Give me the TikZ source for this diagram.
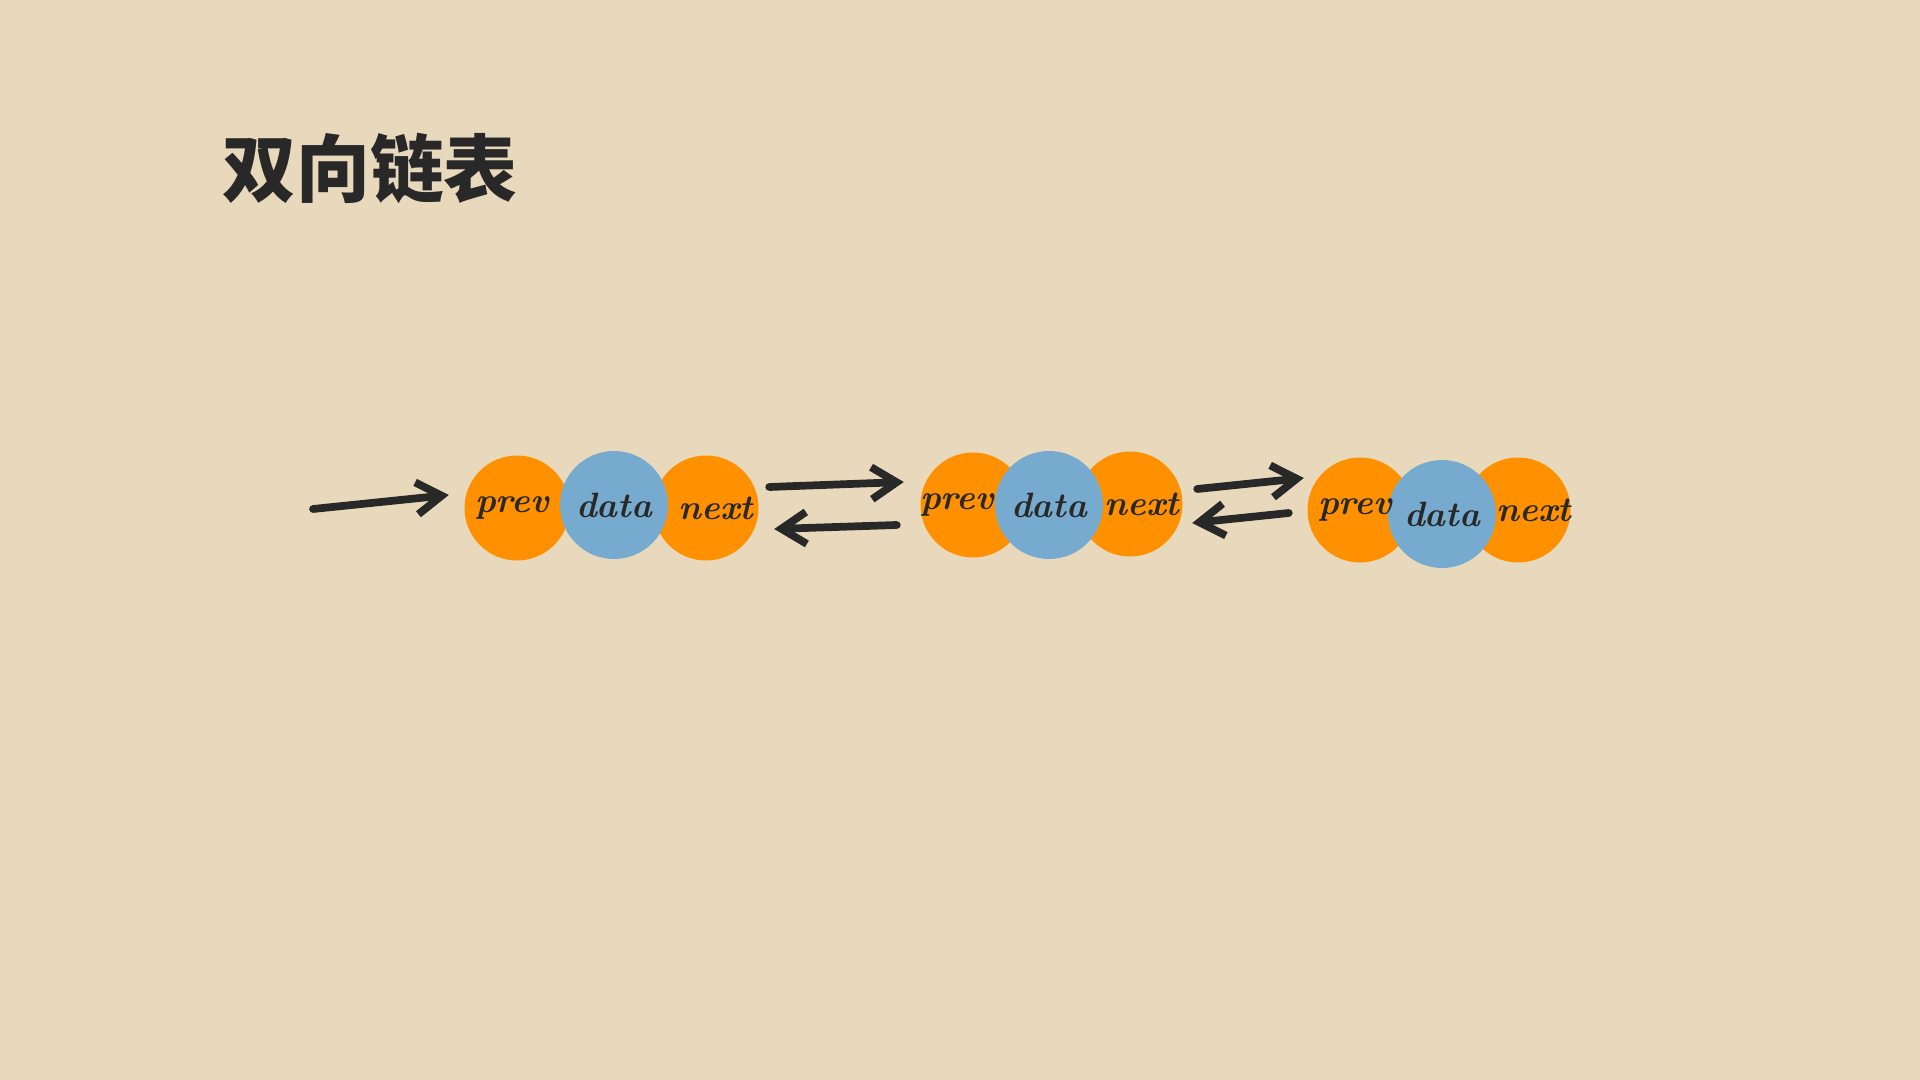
\documentclass[tikz,border=0pt]{standalone}
\usepackage{fontspec}
\newfontfamily\cjk{Noto Sans CJK SC}
\usepackage{tikz}
\usetikzlibrary{arrows.meta}

\definecolor{paper}{RGB}{233,217,188}
\definecolor{ink}{RGB}{40,40,40}
\definecolor{ptrfill}{RGB}{255,145,0}
\definecolor{datafill}{RGB}{118,170,207}

\begin{document}
\begin{tikzpicture}[
                ptr/.style={circle, fill=ptrfill, minimum size=10.5mm, inner sep=0pt}, % pointer fields
                datum/.style={ptr, fill=datafill, minimum size=10.8mm}, % data field
                tag/.style={inner sep=0pt, text=ink, font=\fontsize{10}{12}\selectfont\bfseries\itshape}, % field names
                link/.style={draw=ink, line width=2.2pt, line cap=round, -{Straight Barb[length=2.5mm,width=3.2mm]}} % hand arrows
                ]
                \fill[paper] (0,0) rectangle (19.2,-10.8);
                \useasboundingbox (0,0) rectangle (19.2,-10.8);

                \node[anchor=west, text=ink, font=\cjk\bfseries\fontsize{21}{24}\selectfont] (title) at (2.10,-1.68) {双向链表};

                % first element
                \node[ptr] (prev1) at (5.17,-5.08) {};
                \node[ptr] (next1) at (7.06,-5.08) {};
                \node[datum] (data1) at (6.14,-5.05) {};

                % second element
                \node[ptr] (prev2) at (9.73,-5.05) {};
                \node[ptr] (next2) at (11.30,-5.04) {};
                \node[datum] (data2) at (10.49,-5.05) {};

                % third element
                \node[ptr] (prev3) at (13.60,-5.10) {};
                \node[ptr] (next3) at (15.18,-5.10) {};
                \node[datum] (data3) at (14.42,-5.14) {};

                % field names on top
                \node[tag] (tprev1) at ([xshift=-0.5mm]prev1) {prev};
                \node[tag] (tdata1) at (data1) {data};
                \node[tag] (tnext1) at ([xshift=1mm]next1) {next};
                \node[tag] (tprev2) at ([xshift=-1.6mm]prev2) {prev};
                \node[tag] (tdata2) at (data2) {data};
                \node[tag] (tnext2) at ([xshift=1.2mm]next2) {next};
                \node[tag] (tprev3) at ([xshift=-0.5mm]prev3) {prev};
                \node[tag] (tdata3) at (data3) {data};
                \node[tag] (tnext3) at ([xshift=1.6mm]next3) {next};

                \coordinate (head) at (3.13,-5.09);
                \draw[link] (head) -- ([xshift=-1.5mm,yshift=1.3mm]prev1.west);

                \draw[link] ([xshift=1mm,yshift=2.1mm]next1.east) -- ([xshift=-1.6mm,yshift=2.3mm]prev2.west);
                \draw[link] ([xshift=-2.3mm,yshift=-2mm]prev2.west) -- ([xshift=1.5mm,yshift=-2.1mm]next1.east);

                \draw[link] ([xshift=1.4mm,yshift=1.5mm]next2.east) -- ([xshift=-0.3mm,yshift=3.2mm]prev3.west);
                \draw[link] ([xshift=-1.8mm,yshift=-0.3mm]prev3.west) -- ([xshift=0.9mm,yshift=-1.9mm]next2.east);
            \end{tikzpicture}
\end{document}
